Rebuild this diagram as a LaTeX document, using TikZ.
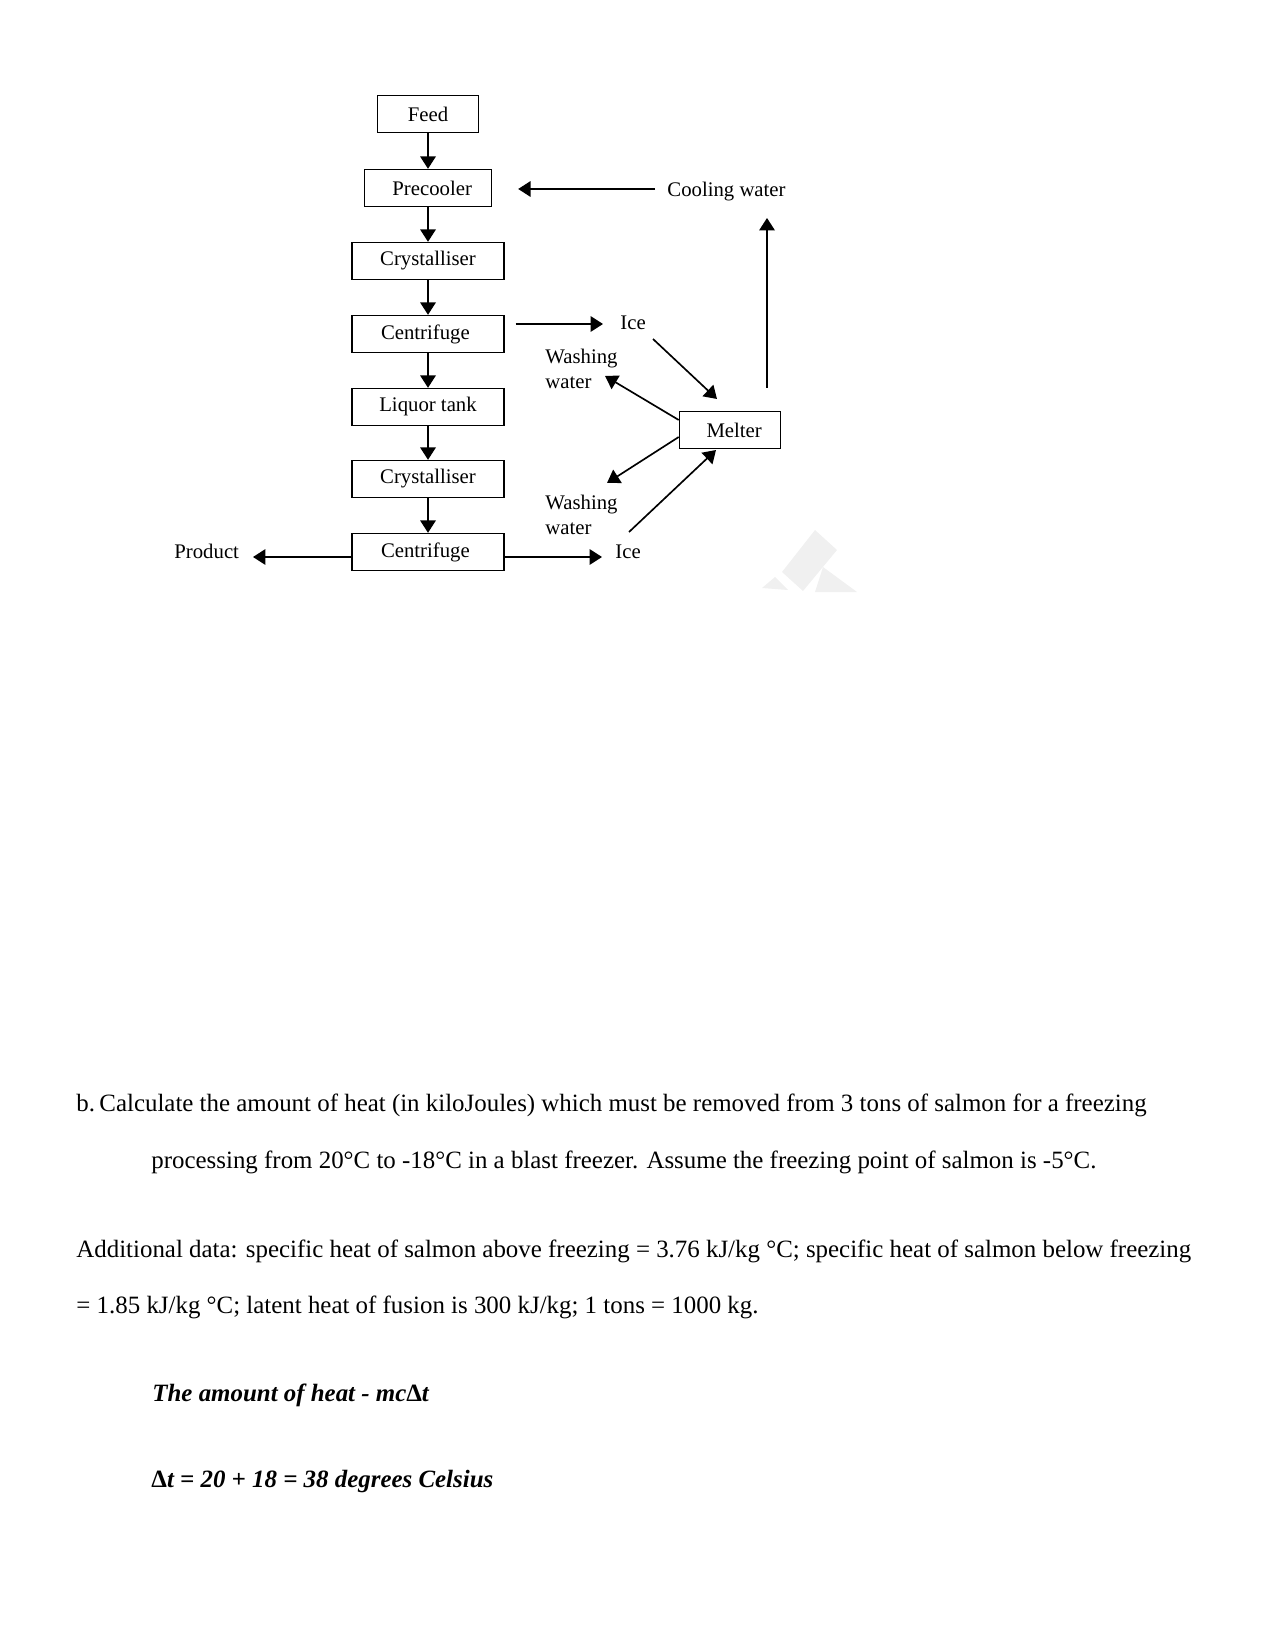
\documentclass[tikz,border=0pt]{standalone}
\usepackage{fontspec}
\setmainfont{Liberation Serif}
\usetikzlibrary{arrows.meta}

\begin{document}
\begin{tikzpicture}[x=0.4818pt, y=-0.4818pt,
    >={Triangle[length=6pt,width=7.5pt]},
    unit/.style={draw, line width=0.7pt, minimum height=17.8pt, inner sep=0pt, font=\fontsize{10}{12}\selectfont},
    tag/.style={inner sep=0pt, align=left, font=\fontsize{10}{12}\selectfont},
    flow/.style={->, line width=0.8pt},
    body/.style={inner sep=0pt, anchor=base west, font=\fontsize{12}{14}\selectfont},
    answer/.style={body, font=\fontsize{12}{14}\selectfont\bfseries\itshape}]
    \useasboundingbox (0,0) rectangle (1275,1650);

    % ===== main line =====
    \def\xM{428}
    \node[unit, minimum width=48.7pt] (feed) at (\xM,114) {Feed};
    \node[unit, minimum width=61.2pt] (precool) at (\xM,188) {\hspace{4pt}Precooler};
    \node[unit, minimum width=73.2pt] (cryst1) at (\xM,261) {Crystalliser};
    \node[unit, minimum width=73.2pt] (centr1) at (\xM,334) {\hspace{-2.5pt}Centrifuge};
    \node[unit, minimum width=73.2pt] (liquor) at (\xM,407) {Liquor tank};
    \node[unit, minimum width=73.2pt] (cryst2) at (\xM,479) {Crystalliser};
    \node[unit, minimum width=73.2pt] (centr2) at (\xM,552) {\hspace{-2.5pt}Centrifuge};
    \foreach \a/\b in {feed/precool, precool/cryst1, cryst1/centr1, centr1/liquor, liquor/cryst2, cryst2/centr2}
        \draw[flow] (\a) -- (\b);

    % ===== melter loop =====
    \node[unit, minimum width=48.7pt] (melter) at (730,430) {\hspace{4pt}Melter};
    \node[tag, anchor=base west] (cooling) at (667,197) {Cooling water};
    \node[tag, anchor=base west] (ice1) at (620,330) {Ice};
    \node[tag, anchor=north west] (wash1) at (545,349) {Washing\\water};
    \node[tag, anchor=north west] (wash2) at (545,495) {Washing\\water};
    \node[tag, anchor=base west] (ice2) at (615,558) {Ice};
    \node[tag, anchor=base west] (product) at (174,558) {Product};

    \coordinate (cwS) at (655,189);
    \coordinate (i1T) at (603,324);
    \coordinate (i1S) at (653,339);
    \coordinate (i1M) at (717,399);
    \coordinate (w1S) at (680,420);
    \coordinate (w1T) at (605,376);
    \coordinate (w2S) at (680,437);
    \coordinate (w2T) at (607,483);
    \coordinate (i2S) at (629,532);
    \coordinate (i2M) at (716,450);
    \coordinate (upS) at (767,388);
    \coordinate (upT) at (767,218);
    \coordinate (prT) at (253,557);
    \coordinate (i2T) at (602,557);

    \draw[flow, shorten >=12.5pt] (cwS) -- (cwS -| precool.east);
    \draw[flow, shorten <=5.3pt] (centr1.east |- i1T) -- (i1T);
    \draw[flow] (i1S) -- (i1M);
    \draw[flow] (melter.west |- w1S) -- (w1T);
    \draw[flow] (melter.west |- w2S) -- (w2T);
    \draw[flow] (i2S) -- (i2M);
    \draw[flow] (upS) -- (upT);
    \draw[flow] (centr2.west |- prT) -- (prT);
    \draw[flow] (centr2.east |- i2T) -- (i2T);

    % ===== faint mark =====
    \fill[gray!12] (782,572) -- (815,530) -- (837,550) -- (803,591) -- cycle;
    \fill[gray!12] (823,567) -- (857,592) -- (815,592) -- cycle;
    \fill[gray!12] (762,588) -- (775,577) -- (788,590) -- cycle;

    % ===== question text =====
    \node[body] (qlabel) at (76,1111) {b.};
    \node[body] (qtext) at (99,1111) {Calculate the amount of heat (in kiloJoules) which must be removed from 3 tons of salmon for a freezing};
    \node[body] (qcont) at (151,1168) {processing from 20°C to -18°C in a blast freezer. Assume the freezing point of salmon is -5°C.};
    \node[body] (data1) at (76,1257) {Additional data: specific heat of salmon above freezing = 3.76 kJ/kg °C; specific heat of salmon below freezing};
    \node[body] (data2) at (76,1313) {= 1.85 kJ/kg °C; latent heat of fusion is 300 kJ/kg; 1 tons = 1000 kg.};
    \node[answer] (heat) at (152,1401) {The amount of heat - mc\textup{Δ}t};
    \node[answer] (deltat) at (151,1487) {\textup{Δ}t = 20 + 18 = 38 degrees Celsius};
\end{tikzpicture}
\end{document}
